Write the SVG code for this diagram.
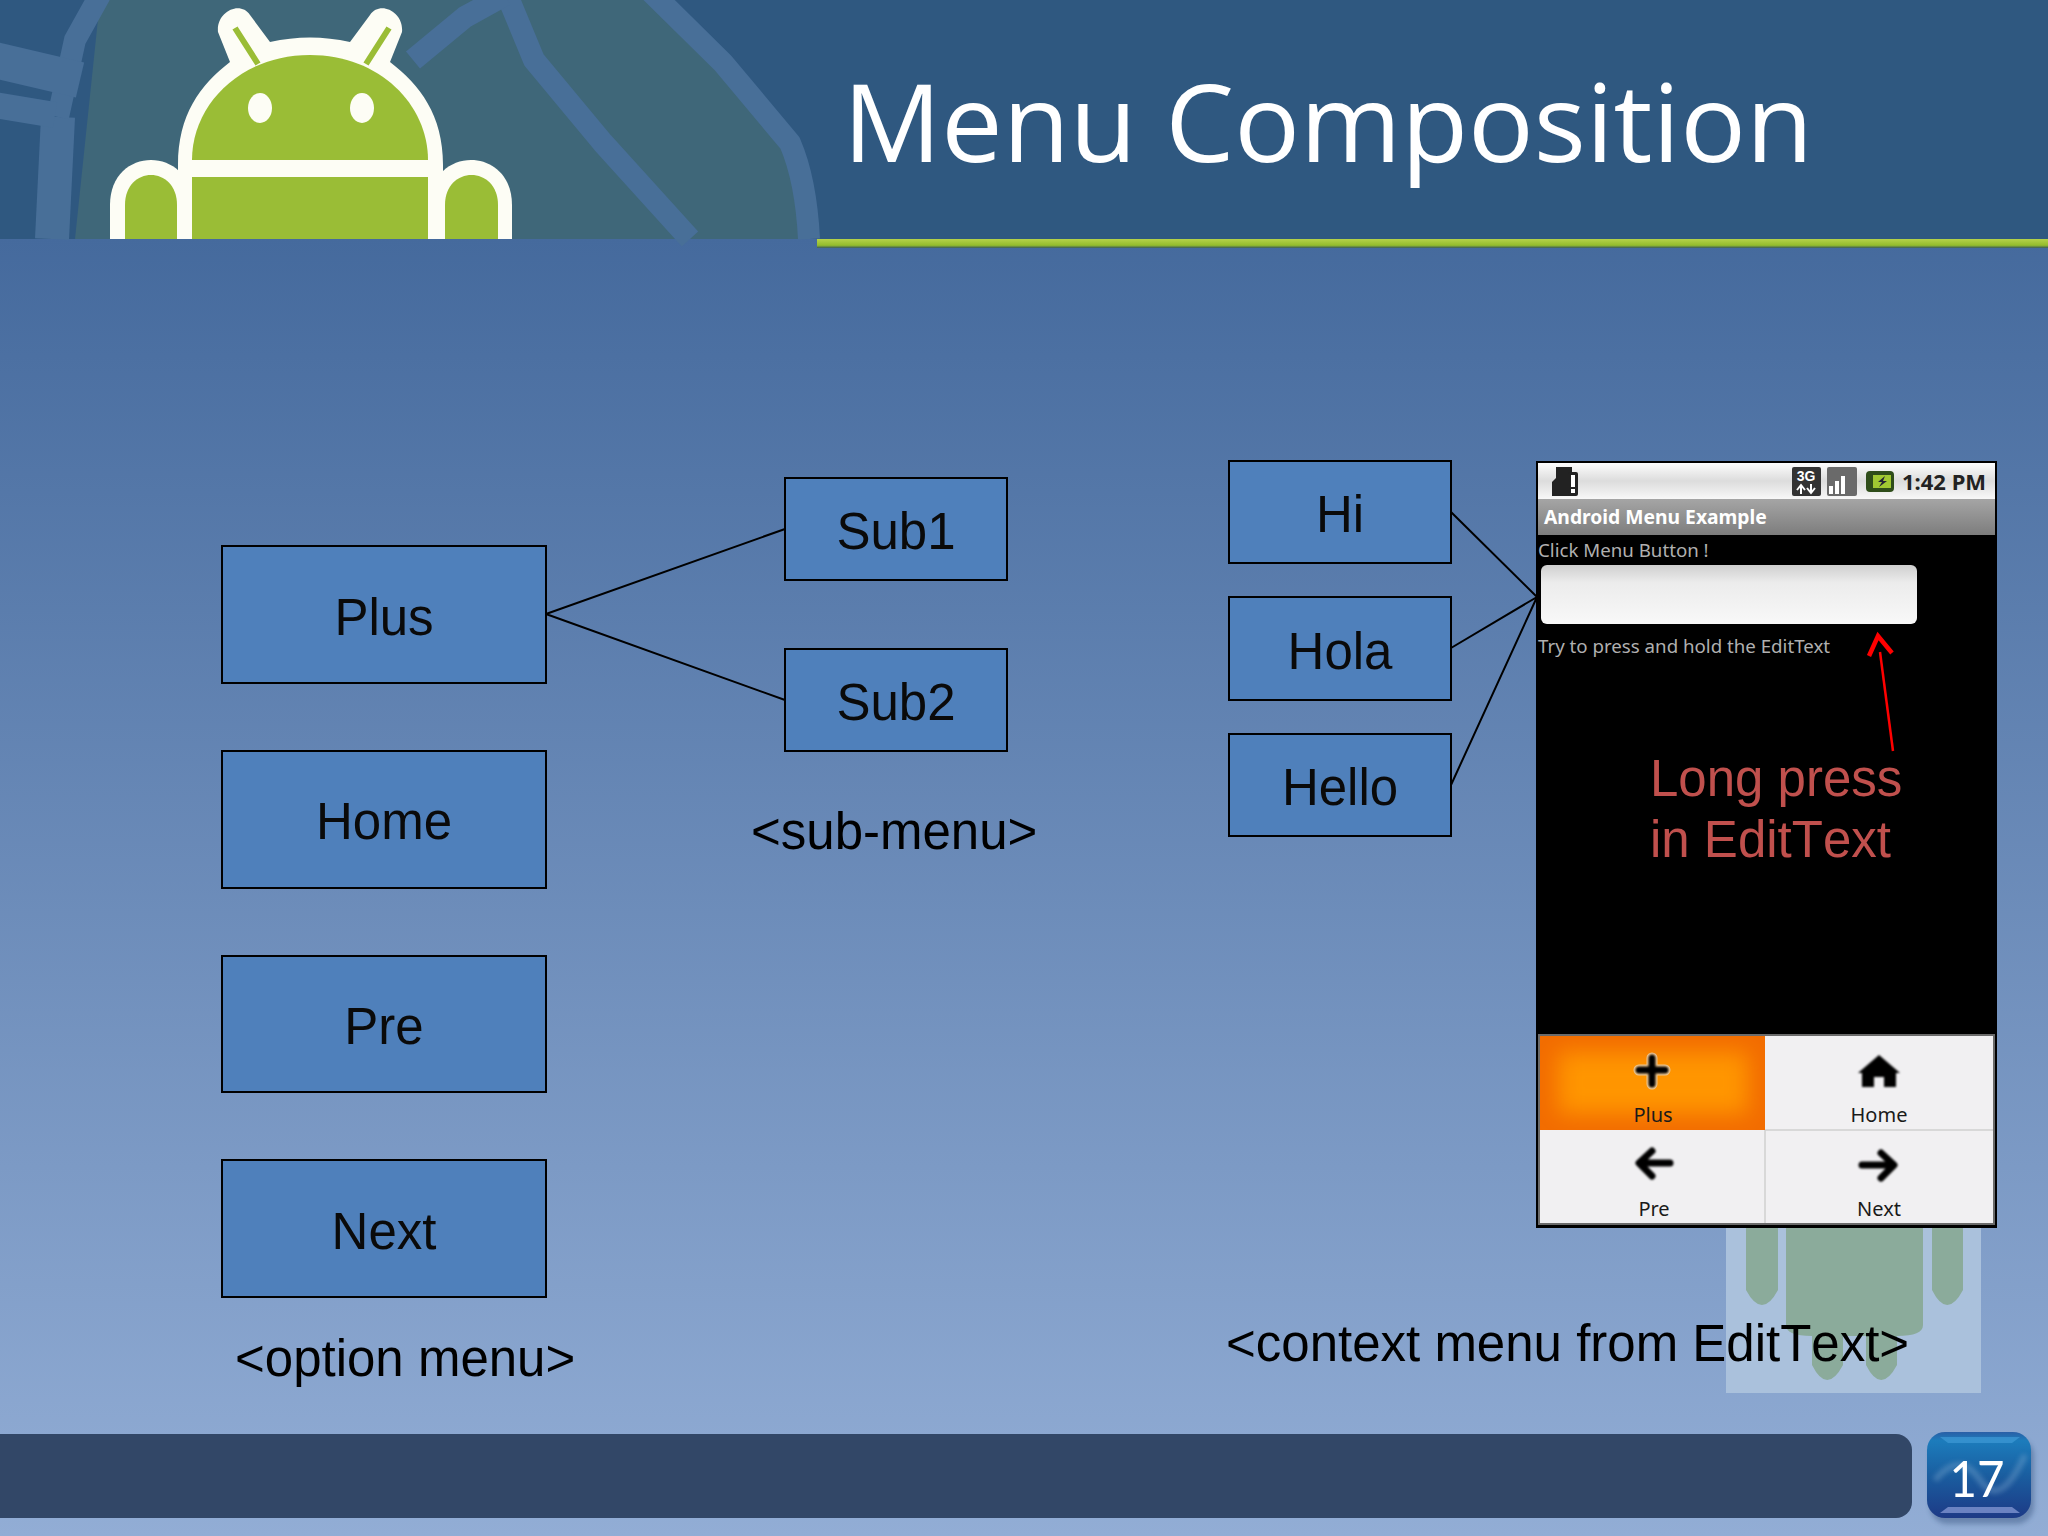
<svg xmlns="http://www.w3.org/2000/svg" width="2048" height="1536" viewBox="0 0 2048 1536">
<style>
.box{fill:#4f80bb;stroke:#000;stroke-width:2}
.lbl,.cap,.red{font-family:"Liberation Sans",Arial,sans-serif;font-size:51px;font-kerning:none}
.lbl{fill:#0a0a0a;text-anchor:middle}
.cap{fill:#000}
.red{fill:#c0504d}
.ph{font-family:"Noto Sans","Open Sans",sans-serif;font-size:18.7px;fill:#b0b0b0}
.mi{font-family:"Noto Sans","Open Sans",sans-serif;font-size:20px;fill:#1a1a1a;text-anchor:middle}
.ic{fill:none;stroke:#000;stroke-width:7;stroke-linecap:round;stroke-linejoin:round}
.gh{fill:none;stroke:#486f98;stroke-width:22;stroke-linejoin:round}
</style>
<defs>
<linearGradient id="bg" gradientUnits="userSpaceOnUse" x1="0" y1="239" x2="0" y2="1536"><stop offset="0" stop-color="#456a9d"/><stop offset="1" stop-color="#92add5"/></linearGradient>
<linearGradient id="bar" x1="0" y1="0" x2="0" y2="1"><stop offset="0" stop-color="#fdfdfd"/><stop offset=".5" stop-color="#dcdcdc"/><stop offset="1" stop-color="#f8f8f8"/></linearGradient>
<linearGradient id="tb" x1="0" y1="0" x2="0" y2="1"><stop offset="0" stop-color="#a5a5a5"/><stop offset="1" stop-color="#7d7d7d"/></linearGradient>
<linearGradient id="ed" x1="0" y1="0" x2="0" y2="1"><stop offset="0" stop-color="#cfcfcf"/><stop offset=".3" stop-color="#ececec"/><stop offset="1" stop-color="#f8f8f8"/></linearGradient>
<linearGradient id="gl" x1="0" y1="0" x2="0" y2="1"><stop offset="0" stop-color="#b5d24a"/><stop offset=".7" stop-color="#94bc2c"/><stop offset="1" stop-color="#3a5a5a"/></linearGradient>
<linearGradient id="bd" x1="0" y1="0" x2="0" y2="1"><stop offset="0" stop-color="#2a5fa6"/><stop offset=".1" stop-color="#1c7cbc"/><stop offset=".5" stop-color="#1a5ea0"/><stop offset="1" stop-color="#1d3a86"/></linearGradient>
<filter id="bl8" x="-20%" y="-30%" width="140%" height="160%"><feGaussianBlur stdDeviation="11"/></filter>
<filter id="bl1" x="-20%" y="-20%" width="140%" height="140%"><feGaussianBlur stdDeviation=".8"/></filter>
<filter id="bl3" x="-30%" y="-30%" width="160%" height="160%"><feGaussianBlur stdDeviation="2.5"/></filter>
<clipPath id="oc"><rect x="1540" y="1036" width="225" height="94"/></clipPath>
<clipPath id="bc"><rect x="1927" y="1432" width="104" height="86" rx="18"/></clipPath>
</defs>
<rect width="2048" height="1536" fill="url(#bg)"/>
<g id="header">
<rect width="2048" height="239" fill="#2f5880"/>
<path d="M75 239L100 0H649L798 143L809 239Z" fill="#3f6779"/>
<path class="gh" d="M649 -10L723 63L790 143Q806 180 809 239"/>
<path class="gh" d="M505 -10L534 60L603 143L690 239"/>
<path class="gh" d="M413 60L465 17L505 -5"/>
<path fill="none" stroke="#486f98" stroke-width="34" d="M52 239L58 117"/>
<path fill="none" stroke="#486f98" stroke-width="22" d="M58 117L75 40L100 -5"/>
<path fill="none" stroke="#486f98" stroke-width="36" d="M-5 60L80 80"/>
<path fill="none" stroke="#486f98" stroke-width="26" d="M-5 105L55 115"/>
<path d="M817 239H2048V248H817Z" fill="url(#gl)"/>
<text x="843" y="162" font-family="'Open Sans','Noto Sans',sans-serif" font-size="108" fill="#fff" textLength="970" lengthAdjust="spacingAndGlyphs">Menu Composition</text>
</g>
<g id="android">
<path d="M178 239V165C178 115 200 85 230 62L218 32C216 12 240 0 250 15L270 42Q310 33 350 42L370 15C380 0 404 12 402 32L390 62C420 85 443 115 443 165V239Z" fill="#fdfdf5"/>
<path d="M110 239V205C110 145 192 145 192 205V239Z" fill="#fdfdf5"/>
<path d="M430 239V205C430 145 512 145 512 205V239Z" fill="#fdfdf5"/>
<path d="M192 160C192 105 240 55 310 55S428 105 428 160Z" fill="#9abd36"/>
<rect x="192" y="177" width="236" height="62" fill="#9abd36"/>
<path d="M125 239V205C125 165 177 165 177 205V239Z" fill="#9abd36"/>
<path d="M445 239V205C445 165 498 165 498 205V239Z" fill="#9abd36"/>
<ellipse cx="260" cy="108" rx="12" ry="15" fill="#fdfdf5"/>
<ellipse cx="362" cy="108" rx="12" ry="15" fill="#fdfdf5"/>
<path d="M235 28L258 64M389 28L366 64" stroke="#9abd36" stroke-width="6"/>
</g>
<g id="watermark">
<rect x="1726" y="1220" width="255" height="173" fill="#aac1dc"/>
<path d="M1746 1220H1778V1290Q1762 1320 1746 1290ZM1932 1220H1963V1290Q1947 1320 1932 1290ZM1786 1220H1923V1325Q1923 1336 1897 1336V1365Q1881 1395 1866 1365V1336H1843V1365Q1827 1395 1812 1365V1336Q1786 1336 1786 1325Z" fill="#8bab9b"/>
</g>
<g id="connectors" fill="none" stroke="#000" stroke-width="2">
<path d="M546 614L785 529M546 614L785 700M1451 512L1537 597M1451 648L1537 597M1451 785L1537 597"/>
</g>
<g id="phone">
<rect x="1536" y="461" width="461" height="767" fill="#000"/>
<rect x="1538" y="463" width="457" height="36" fill="url(#bar)"/>
<path d="M1556 467H1572V496H1552V482L1556 478Z" fill="#222"/>
<rect x="1568" y="472" width="10" height="24" rx="2" fill="#222"/>
<rect x="1571" y="475" width="4" height="12" fill="#fff"/><rect x="1571" y="489" width="4" height="4" fill="#fff"/>
<rect x="1792" y="467" width="29" height="29" rx="2" fill="#333"/>
<text x="1806" y="481" font-family="'Liberation Sans',sans-serif" font-size="14" font-weight="700" fill="#fff" text-anchor="middle">3G</text>
<path d="M1801 494V486M1797 490L1801 485L1805 490M1811 484V492M1807 488L1811 493L1815 488" fill="none" stroke="#fff" stroke-width="2"/>
<rect x="1827" y="467" width="30" height="29" rx="2" fill="#6a6a6a"/>
<path d="M1829 494V486H1833V494ZM1835 494V481H1839V494ZM1841 494V476H1845V494Z" fill="#fff"/>
<rect x="1866" y="471" width="28" height="21" rx="4" fill="#2f4d1a"/>
<rect x="1873" y="475" width="18" height="13" fill="#a0c832"/>
<path d="M1885 476L1878 482H1882L1879 487L1887 481H1883Z" fill="#223"/>
<text x="1902" y="490" font-family="'Noto Sans','Open Sans',sans-serif" font-size="22" font-weight="700" fill="#222">1:42 PM</text>
<rect x="1538" y="499" width="457" height="36" fill="url(#tb)"/>
<text x="1544" y="524" font-family="'Noto Sans','Open Sans',sans-serif" font-size="19.3" font-weight="700" fill="#fff">Android Menu Example</text>
<text class="ph" x="1538" y="557">Click Menu Button !</text>
<rect x="1541" y="565" width="376" height="59" rx="6" fill="url(#ed)"/>
<text class="ph" x="1538" y="653">Try to press and hold the EditText</text>
<path d="M1893 751L1880 652" fill="none" stroke="#f00" stroke-width="2.5"/>
<path d="M1869 656L1878 636L1892 653" fill="none" stroke="#f00" stroke-width="4.5"/>
<text class="red" x="1650" y="796">Long press</text>
<text class="red" x="1650" y="857">in EditText</text>
<rect x="1538" y="1034" width="457" height="191" fill="#6b6b6b"/>
<rect x="1540" y="1036" width="453" height="187" fill="#f1f0f2"/>
<g clip-path="url(#oc)"><rect x="1540" y="1036" width="225" height="94" fill="#f26c00"/><rect x="1558" y="1052" width="190" height="62" fill="#ff9500" filter="url(#bl8)"/></g>
<path d="M1765 1130H1993M1765 1130V1223" stroke="#cfcfcf" stroke-width="1.5"/>
<path d="M1652 1058V1084M1639 1070H1665" fill="none" stroke="#fff" stroke-width="11" stroke-linecap="round" opacity=".6"/>
<g filter="url(#bl1)">
<path class="ic" d="M1652 1058V1084M1639 1070H1665"/>
<path d="M1879 1055L1900 1073H1896V1087H1884V1077H1874V1087H1862V1073H1858Z" fill="#000"/>
<path class="ic" d="M1670 1163H1640M1652 1151L1639 1163L1652 1176"/>
<path class="ic" d="M1862 1165H1893M1881 1153L1894 1165L1881 1178"/>
</g>
<text class="mi" x="1653" y="1122">Plus</text>
<text class="mi" x="1879" y="1122">Home</text>
<text class="mi" x="1654" y="1216">Pre</text>
<text class="mi" x="1879" y="1216">Next</text>
</g>
<g id="node-plus"><rect class="box" x="222" y="546" width="324" height="137"/><text class="lbl" x="384" y="635">Plus</text></g>
<g id="node-home"><rect class="box" x="222" y="751" width="324" height="137"/><text class="lbl" x="384" y="839">Home</text></g>
<g id="node-pre"><rect class="box" x="222" y="956" width="324" height="136"/><text class="lbl" x="384" y="1044">Pre</text></g>
<g id="node-next"><rect class="box" x="222" y="1160" width="324" height="137"/><text class="lbl" x="384" y="1249">Next</text></g>
<g id="node-sub1"><rect class="box" x="785" y="478" width="222" height="102"/><text class="lbl" x="896" y="549">Sub1</text></g>
<g id="node-sub2"><rect class="box" x="785" y="649" width="222" height="102"/><text class="lbl" x="896" y="720">Sub2</text></g>
<g id="node-hi"><rect class="box" x="1229" y="461" width="222" height="102"/><text class="lbl" x="1340" y="532">Hi</text></g>
<g id="node-hola"><rect class="box" x="1229" y="597" width="222" height="103"/><text class="lbl" x="1340" y="669">Hola</text></g>
<g id="node-hello"><rect class="box" x="1229" y="734" width="222" height="102"/><text class="lbl" x="1340" y="805">Hello</text></g>
<g id="captions">
<text class="cap" x="235" y="1376">&lt;option menu&gt;</text>
<text class="cap" x="751" y="849">&lt;sub-menu&gt;</text>
<text class="cap" x="1226" y="1361">&lt;context menu from EditText&gt;</text>
</g>
<g id="footer">
<rect x="-20" y="1434" width="1932" height="84" rx="16" fill="#324767"/>
<rect x="1930" y="1438" width="104" height="86" rx="18" fill="#1d3a66" opacity=".35" filter="url(#bl3)"/>
<rect x="1927" y="1432" width="104" height="86" rx="18" fill="url(#bd)"/>
<g clip-path="url(#bc)">
<path d="M1940 1437H2020L2012 1443H1948Z" fill="#3f9ad6" opacity=".7"/>
<path d="M1940 1513H2020L2012 1507H1948Z" fill="#7f93d0" opacity=".8"/>
<path d="M1935 1480Q1960 1450 1980 1480T2025 1455" fill="none" stroke="#8fb6d8" stroke-width="6" opacity=".35" filter="url(#bl3)"/>
</g>
<text x="1977" y="1497" text-anchor="middle" font-family="Lato,'Open Sans',sans-serif" font-size="50" fill="#fff" textLength="55" lengthAdjust="spacingAndGlyphs">17</text>
</g>
</svg>
